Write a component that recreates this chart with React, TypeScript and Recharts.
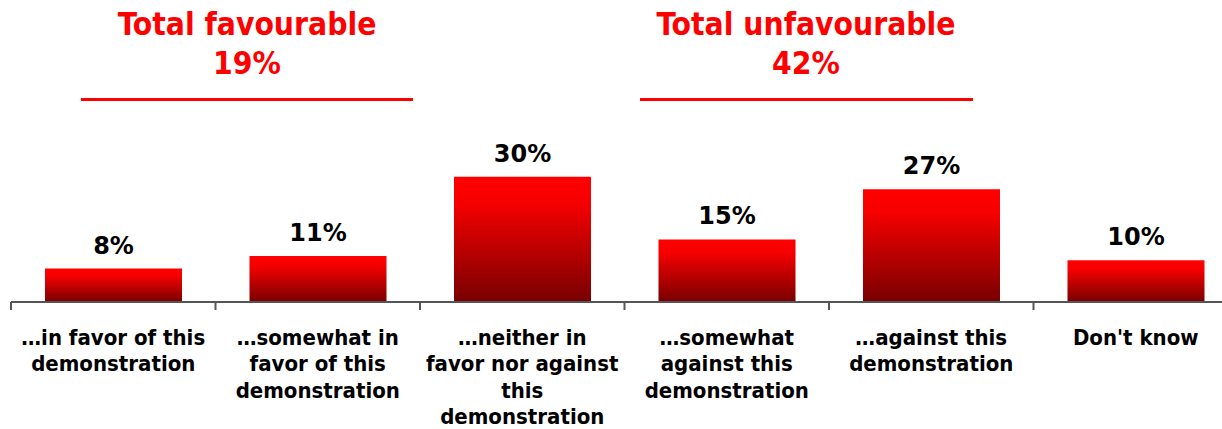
import React from 'react';
import { Bar, BarChart, LabelList, XAxis, YAxis } from 'recharts';

// Data
const categories = [
  '…in favor of this demonstration',
  '…somewhat in favor of this demonstration',
  '…neither in favor nor against this demonstration',
  '…somewhat against this demonstration',
  '…against this demonstration',
  "Don't know",
];
const categoryLines = [
  ['…in favor of this', 'demonstration'],
  ['…somewhat in', 'favor of this', 'demonstration'],
  ['…neither in', 'favor nor against', 'this', 'demonstration'],
  ['…somewhat', 'against this', 'demonstration'],
  ['…against this', 'demonstration'],
  ["Don't know"],
];
const values = [8, 11, 30, 15, 27, 10];
const groupTitles = ['Total favourable', 'Total unfavourable'];
const groupMembers = [[0, 1], [3, 4]];

const data = categories.map((name, i) => ({ name, value: values[i], lines: categoryLines[i] }));

const FONT = '"DejaVu Sans Condensed", "DejaVu Sans", sans-serif';
const LABEL_FONT = '"DejaVu Sans", sans-serif';
const CHART_W = 1240;
const CHART_H = 429;
const MARGIN = { top: 135, right: 2, left: 11, bottom: 0 };
const BAND = (CHART_W - MARGIN.left - MARGIN.right) / categories.length;

const CategoryTick = (props: any) => {
  const { x, y, payload, index } = props;
  const lines = categoryLines[index] || [String(payload.value)];
  return (
    <g>
      <line x1={x - BAND / 2} x2={x - BAND / 2} y1={y} y2={y + 8} stroke="#555" strokeWidth={2} />
      <text x={x} y={y} textAnchor="middle" fontFamily={FONT} fontWeight="bold" fontSize={22} fill="#000">
        {lines.map((l: string, i: number) => (
          <tspan key={i} x={x} y={y + 42.5 + i * 26.5}>{l}</tspan>
        ))}
      </text>
    </g>
  );
};

// group headers (positions of the red rules under them)
const groupLayout = [
  { cx: 247, x1: 81, x2: 413 },
  { cx: 806, x1: 640, x2: 973 },
];

export default function App() {
  const totals = groupMembers.map(m => m.reduce((s, i) => s + values[i], 0));
  return (
    <div style={{ position: 'absolute', left: 0, top: 0, width: 1222, height: 429, overflow: 'hidden', background: '#fff' }}>
      <BarChart width={CHART_W} height={CHART_H} data={data} margin={MARGIN} barCategoryGap={34}>
        <defs>
          <linearGradient id="barGrad" x1="0" y1="0" x2="0" y2="1">
            <stop offset="0%" stopColor="#ff0000" />
            <stop offset="20%" stopColor="#f70000" />
            <stop offset="100%" stopColor="#780000" />
          </linearGradient>
        </defs>
        <XAxis
          dataKey="name"
          height={CHART_H - 302}
          axisLine={{ stroke: '#555', strokeWidth: 2 }}
          tickLine={false}
          tickSize={0}
          tickMargin={0}
          interval={0}
          tick={<CategoryTick />}
        />
        <YAxis hide domain={[0, 40]} />
        <Bar dataKey="value" fill="url(#barGrad)" isAnimationActive={false}>
          <LabelList
            dataKey="value"
            position="top"
            offset={15}
            formatter={(v: any) => `${v}%`}
            style={{ fontFamily: LABEL_FONT, fontWeight: 'bold', fontSize: 24, fill: '#000' }}
          />
        </Bar>
      </BarChart>
      <svg width={1222} height={110} style={{ position: 'absolute', left: 0, top: 0 }}>
        {groupLayout.map((g, i) => (
          <g key={i}>
            <text x={g.cx} y={35} textAnchor="middle" fontFamily={FONT} fontWeight="bold" fontSize={31.5} fill="#ff0000">
              {groupTitles[i]}
            </text>
            <text x={g.cx} y={74} textAnchor="middle" fontFamily={FONT} fontWeight="bold" fontSize={31.5} fill="#ff0000">
              {`${totals[i]}%`}
            </text>
            <line x1={g.x1} x2={g.x2} y1={99.5} y2={99.5} stroke="#ff0000" strokeWidth={3} />
          </g>
        ))}
      </svg>
    </div>
  );
}
